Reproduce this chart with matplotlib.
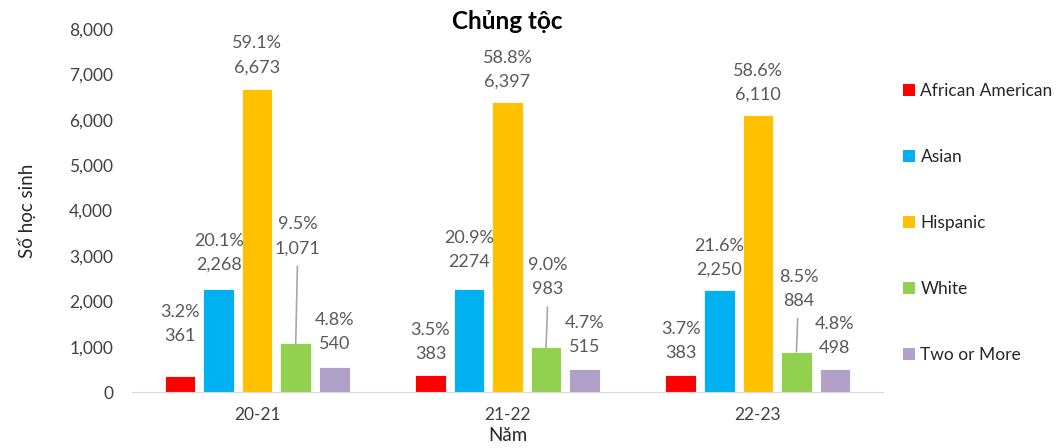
import numpy as np
import matplotlib
matplotlib.use("Agg")
import matplotlib.pyplot as plt
from matplotlib.patches import Patch

plt.rcParams['font.family'] = ['Lato', 'DejaVu Sans']

# data
years = ['20-21', '21-22', '22-23']
groups = ['African American', 'Asian', 'Hispanic', 'White', 'Two or More']
counts = {
    'African American': [361, 383, 383],
    'Asian': [2268, 2274, 2250],
    'Hispanic': [6673, 6397, 6110],
    'White': [1071, 983, 884],
    'Two or More': [540, 515, 498],
}
count_labels = {
    'African American': ['361', '383', '383'],
    'Asian': ['2,268', '2274', '2,250'],
    'Hispanic': ['6,673', '6,397', '6,110'],
    'White': ['1,071', '983', '884'],
    'Two or More': ['540', '515', '498'],
}
pct_labels = {
    'African American': ['3.2%', '3.5%', '3.7%'],
    'Asian': ['20.1%', '20.9%', '21.6%'],
    'Hispanic': ['59.1%', '58.8%', '58.6%'],
    'White': ['9.5%', '9.0%', '8.5%'],
    'Two or More': ['4.8%', '4.7%', '4.8%'],
}
colors = ['#FF0000', '#00B0F0', '#FFC000', '#92D050', '#B1A0C7']

# label lift above bar top (pixels), white labels use leader lines
lift = {
    'African American': [40, 21, 22],
    'Asian': [24, 27, 20],
    'Hispanic': [22, 20, 20],
    'White': [95, 58, 51],
    'Two or More': [23, 22, 21],
}

px = 0.72  # points per pixel at dpi 100
txt_color = '#595959'

fig = plt.figure(figsize=(10.6, 4.48), dpi=100)
ax = fig.add_axes([132 / 1060, 56 / 448, 751 / 1060, 363 / 448])

x = np.arange(len(years))
width = 0.122
step = 0.154

for i, g in enumerate(groups):
    xs = x + (i - 2) * step
    ax.bar(xs, counts[g], width, color=colors[i], edgecolor='white', linewidth=0.6, label=g)
    for j in range(len(years)):
        off = lift[g][j]
        if g == 'White':
            ax.annotate(count_labels[g][j], xy=(xs[j], counts[g][j]),
                        xytext=(1.5, off * px), textcoords='offset points',
                        ha='center', va='center', fontsize=13, color=txt_color,
                        arrowprops=dict(arrowstyle='-', color='#A6A6A6', lw=1.2,
                                        shrinkA=5, shrinkB=0))
        else:
            ax.annotate(count_labels[g][j], xy=(xs[j], counts[g][j]),
                        xytext=(0, off * px), textcoords='offset points',
                        ha='center', va='center', fontsize=13, color=txt_color)
        ax.annotate(pct_labels[g][j], xy=(xs[j], counts[g][j]),
                    xytext=(1.5 if g == 'White' else 0, (off + 24) * px),
                    textcoords='offset points',
                    ha='center', va='center', fontsize=13, color=txt_color)

ax.set_xlim(-0.5, 2.5)
ax.set_ylim(0, 8000)
ax.set_yticks(range(0, 8001, 1000))
ax.yaxis.set_major_formatter(matplotlib.ticker.FuncFormatter(lambda v, p: f'{int(v):,}'))
ax.set_xticks(x)
ax.set_xticklabels(years)
ax.tick_params(axis='both', length=0, labelsize=12.5, labelcolor='#404040')
ax.tick_params(axis='y', pad=13.5)
ax.tick_params(axis='x', pad=11)
for s in ['top', 'right', 'left']:
    ax.spines[s].set_visible(False)
ax.spines['bottom'].set_color('#D9D9D9')

ax.set_ylabel('Số học sinh', fontsize=13.5, color='#262626', labelpad=24)
ax.set_xlabel('Năm', fontsize=13.5, color='#262626', labelpad=3)
ax.set_title('Chủng tộc', fontsize=17.5, fontweight='bold', color='black', pad=0, y=1.0)

handles = [Patch(facecolor=c, label=g) for g, c in zip(groups, colors)]
fig.legend(handles=handles, loc='upper left', bbox_to_anchor=(0.852, 0.815),
           frameon=False, fontsize=12.5, handlelength=0.7, handleheight=0.7,
           handletextpad=0.3, labelspacing=2.88, labelcolor='#262626',
           borderpad=0, borderaxespad=0)

fig.savefig('out.png', dpi=100)
